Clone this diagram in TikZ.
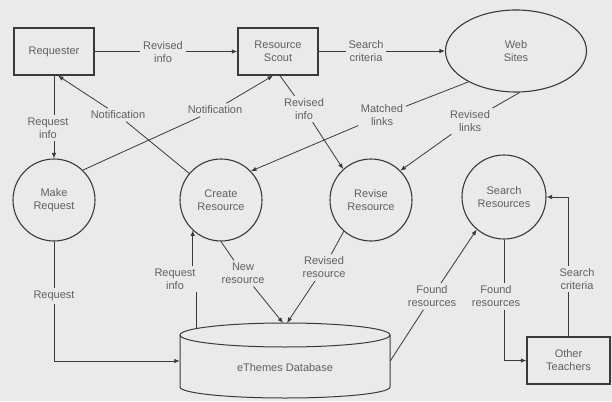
\documentclass[tikz,border=0pt]{standalone}
\usepackage{fontspec}
\setmainfont{Liberation Sans}
\usetikzlibrary{arrows.meta,shapes.geometric,calc}
\definecolor{paper}{RGB}{234,234,234}
\definecolor{ink}{RGB}{58,58,58}
\definecolor{txt}{RGB}{96,96,96}

\begin{document}
\begin{tikzpicture}[x=1pt,y=-1pt,
  font=\fontsize{11}{13}\selectfont,
  every node/.style={text=txt, align=center},
  entity/.style={draw=ink, line width=1.4pt, minimum width=80pt, minimum height=47pt, inner sep=0pt},
  process/.style={circle, draw=ink, line width=1.1pt, minimum size=82pt, inner sep=0pt},
  store/.style={ellipse, draw=ink, line width=1.1pt, inner sep=0pt},
  flowlabel/.style={inner sep=2.5pt},
  flow/.style={draw=ink, line width=0.8pt},
  flowarrow/.style={flow, -{Latex[length=5.5pt,width=4.5pt]}},
]
% paper
\fill[paper] (0,0) rectangle (612,401);
\useasboundingbox (0,0) rectangle (612,401);

% external entities
\node[entity] (requester) at (54,51.5) {Requester};
\node[entity] (scout) at (278,51.5) {Resource\\Scout};
\node[entity, minimum width=83pt] (others) at (568.5,360.5) {Other\\Teachers};
\node[store, minimum width=141pt, minimum height=82pt] (web) at (516,51) {Web\\Sites};

% processes
\node[process] (mkreq) at (54,200) {Make\\Request};
\node[process] (create) at (221,200) {Create\\Resource};
\node[process] (revise) at (371,200) {Revise\\Resource};
\node[process, minimum size=84pt] (search) at (504,197) {Search\\Resources};

% data store: cylinder
\draw[ink, line width=1pt] (180,335) -- (180,387)
  .. controls (180,393.1) and (227,398) .. (285,398)
  .. controls (343,398) and (390,393.1) .. (390,387) -- (390,335);
\draw[ink, line width=1pt] (285,335) ellipse [x radius=105, y radius=12];
\node[minimum width=210pt, minimum height=52pt, inner sep=0pt] (db) at (285,361) {};
\node (dbname) at (285,368) {eThemes Database};
\coordinate (dbTop) at (285,323);
\coordinate (dbReq) at (196,329);

% flow labels
\node[flowlabel] (lRevInfoA) at (163,52.5) {Revised\\info};
\node[flowlabel] (lSearchA) at (366,51) {Search\\criteria};
\node[flowlabel] (lReqInfoA) at (48,128) {Request\\info};
\node[flowlabel] (lNotifA) at (118,115) {Notification};
\node[flowlabel] (lNotifB) at (215,110) {Notification};
\node[flowlabel] (lRevInfoB) at (304,109) {Revised\\info};
\node[flowlabel] (lMatched) at (382,115.5) {Matched\\links};
\node[flowlabel] (lRevLinks) at (470,121) {Revised\\links};
\node[flowlabel] (lReqInfoB) at (175,279) {Request\\info};
\node[flowlabel] (lNew) at (243,273.5) {New\\resource};
\node[flowlabel] (lRevRes) at (324,267.5) {Revised\\resource};
\node[flowlabel] (lFoundA) at (432,296.5) {Found\\resources};
\node[flowlabel] (lFoundB) at (496,296.5) {Found\\resources};
\node[flowlabel] (lSearchB) at (577,279) {Search\\criteria};
\node[flowlabel] (lRequest) at (54,296) {Request};

% flows along the top
\draw[flow] (requester.east) -- (requester.east -| lRevInfoA.west);
\draw[flowarrow] (lRevInfoA.east |- scout.west) -- (scout.west);
\draw[flow] (scout.east) -- (scout.east -| lSearchA.west);
\draw[flowarrow] (lSearchA.east |- web.west) -- (web.west);

% requester and make request
\draw[flow] (requester.south) -- (requester.south |- lReqInfoA.north);
\draw[flowarrow] (mkreq.north |- lReqInfoA.south) -- (mkreq.north);

% notifications
\draw[flow] (create.140) -- (lNotifA);
\draw[flowarrow] (lNotifA) -- ([xshift=4pt]requester.south);
\draw[flow] (mkreq.46) -- (lNotifB);
\draw[flowarrow] (lNotifB) -- ([xshift=-5pt]scout.south);

% scout and web sites to the processes
\draw[flow] ([xshift=2pt]scout.south) -- (lRevInfoB);
\draw[flowarrow] (lRevInfoB) -- (revise.132);
\draw[flow] (web.213) -- (lMatched);
\draw[flowarrow] (lMatched) -- (create.44);
\draw[flow] (web.275) -- (lRevLinks);
\draw[flowarrow] (lRevLinks) -- (revise.45);

% database flows
\draw[flow] (dbReq) -- (dbReq |- lReqInfoB.south);
\draw[flowarrow] (create.227 |- lReqInfoB.north) -- (create.227);
\draw[flow] (create.south) -- (lNew);
\draw[flowarrow] (lNew) -- ([xshift=-2pt]dbTop);
\draw[flow] (revise.229) -- (lRevRes);
\draw[flowarrow] (lRevRes) -- ([xshift=2pt]dbTop);
\draw[flow] (db.east) -- (lFoundA);
\draw[flowarrow] (lFoundA) -- (search.230);
\draw[flow] (mkreq.south) -- (mkreq.south |- lRequest.north);
\draw[flowarrow] (mkreq.south |- lRequest.south) |- (db.west);

% other teachers
\draw[flow] (search.south) -- (search.south |- lFoundB.north);
\draw[flowarrow] (search.south |- lFoundB.south) |- (others.west);
\draw[flow] (others.north) -- (others.north |- lSearchB.south);
\draw[flowarrow] (others.north |- lSearchB.north) |- (search.east);
\end{tikzpicture}
\end{document}
